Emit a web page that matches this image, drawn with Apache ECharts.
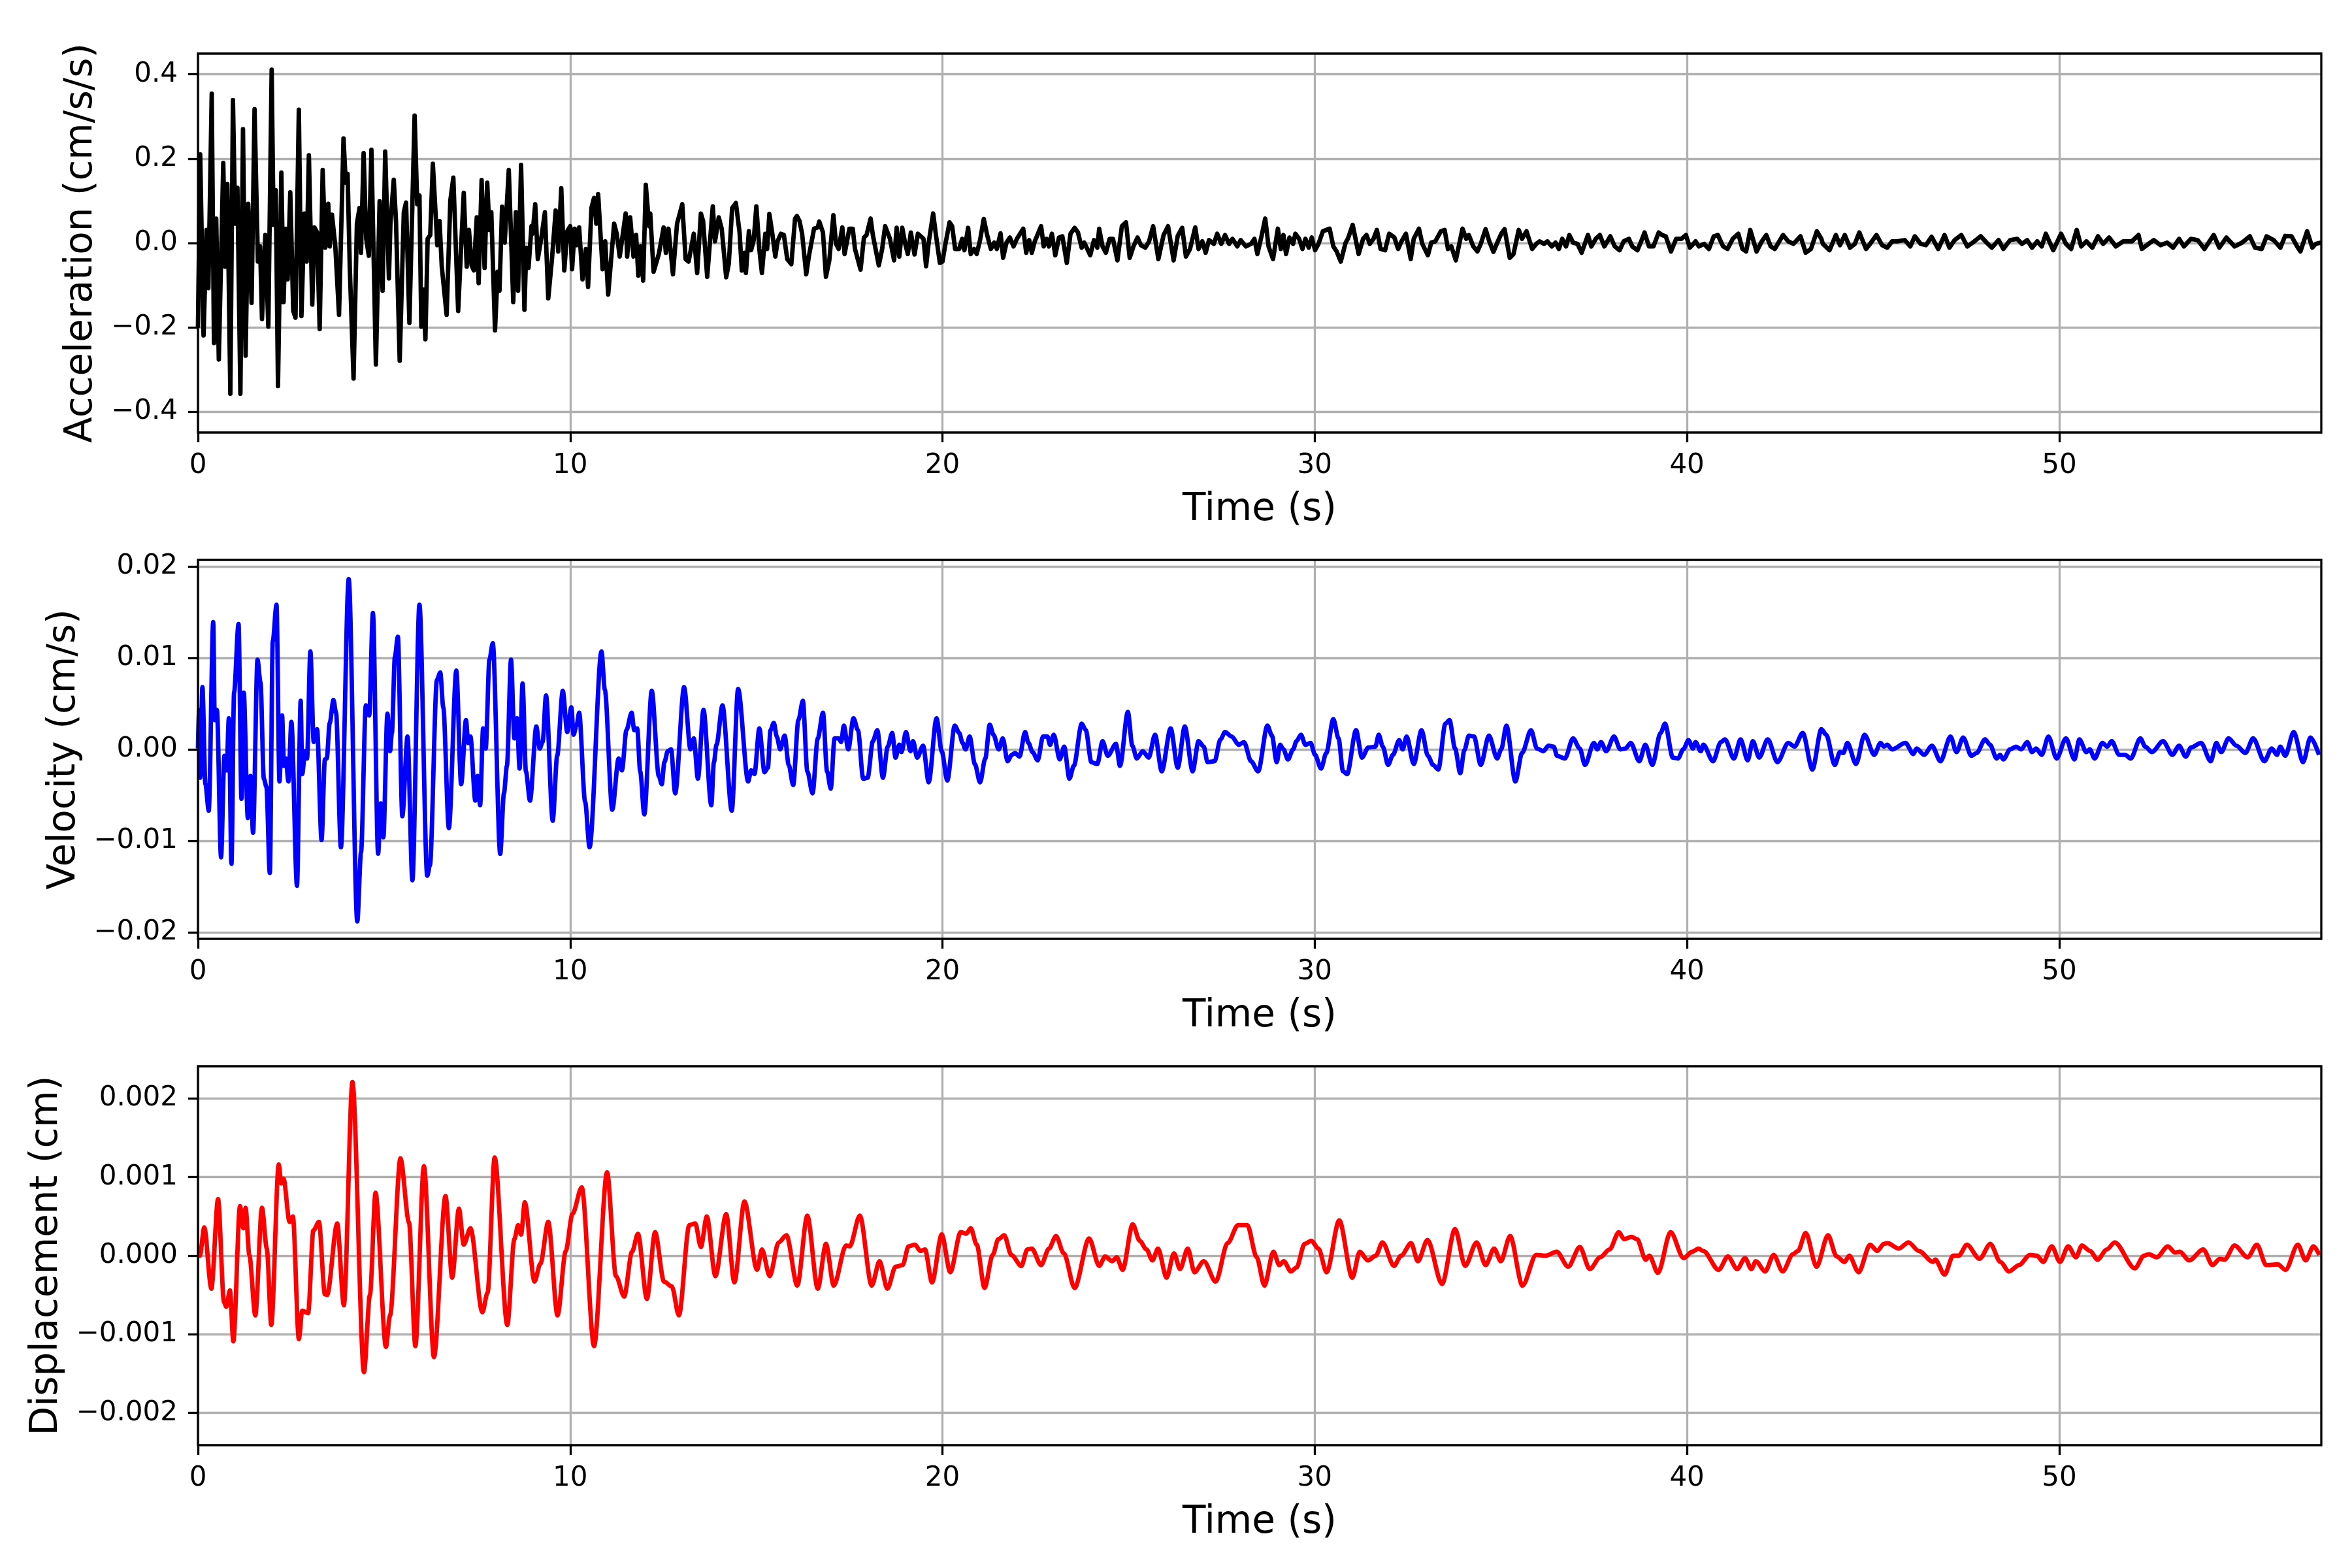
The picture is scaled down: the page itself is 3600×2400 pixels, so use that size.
<!DOCTYPE html>
<html>
<head>
<meta charset="utf-8">
<script src="https://cdn.jsdelivr.net/npm/echarts/dist/echarts.min.js"></script>
<style>
  html, body { margin: 0; padding: 0; background: #fff; }
  #chart { width: 3600px; height: 2400px; }
</style>
</head>
<body>
<div id="chart"></div>
<script>
// 时间范围和刻度
const tMax = 57.04
const xTicks = [0, 10, 20, 30, 40, 50]
const accTicks = [-0.4, -0.2, 0, 0.2, 0.4]
const velTicks = [-0.02, -0.01, 0, 0.01, 0.02]
const dispTicks = [-0.002, -0.001, 0, 0.001, 0.002]

// 加速度 [t, cm/s/s]
const accel = [
  [0.00,-0.201],[0.06,0.210],[0.15,-0.219],[0.23,0.031],[0.28,-0.107],[0.37,0.354],[0.43,-0.237],[0.49,0.058],[0.56,-0.276],[0.68,0.190],
  [0.73,-0.056],[0.79,0.140],[0.87,-0.357],[0.94,0.339],[1.00,0.046],[1.06,0.131],[1.14,-0.357],[1.21,0.270],[1.28,-0.267],[1.35,0.093],
  [1.44,-0.142],[1.52,0.317],[1.61,-0.044],[1.67,-0.008],[1.72,-0.180],[1.81,0.019],[1.89,-0.198],[1.98,0.411],[2.03,0.043],[2.09,0.125],
  [2.15,-0.339],[2.24,0.167],[2.30,-0.140],[2.36,0.034],[2.41,-0.086],[2.48,0.120],[2.56,-0.161],[2.62,-0.177],[2.71,0.316],[2.78,-0.173],
  [2.86,0.070],[2.92,-0.044],[2.98,0.208],[3.07,-0.146],[3.13,0.037],[3.20,0.025],[3.27,-0.204],[3.35,0.173],[3.42,-0.011],[3.50,0.093],
  [3.54,-0.008],[3.60,0.067],[3.69,-0.008],[3.79,-0.170],[3.91,0.248],[3.97,0.143],[4.02,0.164],[4.08,-0.062],[4.18,-0.321],[4.27,0.046],
  [4.34,0.083],[4.38,-0.023],[4.45,0.213],[4.52,0.010],[4.59,-0.030],[4.66,0.221],[4.78,-0.288],[4.88,0.099],[4.96,-0.113],[5.03,0.217],
  [5.13,-0.084],[5.17,0.046],[5.26,0.150],[5.32,0.052],[5.42,-0.279],[5.53,0.073],[5.59,0.096],[5.68,-0.189],[5.82,0.302],[5.89,0.092],
  [5.95,0.113],[6.00,-0.198],[6.05,-0.110],[6.11,-0.228],[6.17,0.010],[6.24,0.019],[6.31,0.188],[6.43,-0.005],[6.49,0.052],[6.55,-0.056],
  [6.68,-0.170],[6.78,0.101],[6.86,0.155],[6.99,-0.161],[7.07,-0.008],[7.14,0.119],[7.22,-0.056],[7.28,0.031],[7.35,-0.053],[7.41,-0.065],
  [7.49,0.061],[7.54,-0.095],[7.62,0.149],[7.70,-0.059],[7.77,0.143],[7.83,0.031],[7.88,0.073],[7.98,-0.207],[8.05,-0.068],[8.10,-0.113],
  [8.17,0.086],[8.24,0.001],[8.35,0.173],[8.47,-0.140],[8.54,0.073],[8.60,-0.113],[8.68,0.185],[8.77,-0.158],[8.82,-0.011],[8.88,-0.059],
  [8.96,0.040],[8.99,0.022],[9.06,0.092],[9.13,-0.038],[9.23,0.016],[9.32,0.073],[9.41,-0.131],[9.51,-0.038],[9.61,0.077],[9.68,-0.020],
  [9.76,0.130],[9.84,-0.065],[9.92,0.028],[10.00,0.040],[10.05,-0.062],[10.12,0.034],[10.18,-0.005],[10.24,0.037],[10.33,-0.086],[10.42,-0.014],
  [10.48,-0.104],[10.57,0.083],[10.64,0.107],[10.70,0.046],[10.75,0.116],[10.87,-0.062],[10.94,0.004],[11.02,-0.122],[11.18,0.046],[11.25,0.022],
  [11.33,-0.032],[11.49,0.070],[11.53,-0.032],[11.61,0.061],[11.70,-0.032],[11.77,0.019],[11.83,-0.077],[11.89,-0.008],[11.96,-0.089],[12.03,0.138],
  [12.12,0.040],[12.15,0.070],[12.24,-0.068],[12.38,-0.026],[12.51,0.037],[12.57,-0.023],[12.64,0.034],[12.76,-0.074],[12.87,0.046],[13.01,0.092],
  [13.10,-0.038],[13.18,-0.044],[13.32,0.022],[13.41,-0.071],[13.51,0.070],[13.57,0.052],[13.68,-0.080],[13.83,0.087],[13.89,0.004],[13.99,0.061],
  [14.07,0.034],[14.19,-0.081],[14.26,-0.049],[14.35,0.083],[14.45,0.095],[14.55,0.025],[14.61,-0.065],[14.68,-0.023],[14.72,-0.071],[14.80,0.028],
  [14.86,-0.017],[14.93,0.007],[15.00,0.087],[15.08,-0.014],[15.15,-0.071],[15.24,0.022],[15.29,-0.014],[15.35,0.069],[15.43,0.022],[15.51,-0.032],
  [15.57,0.004],[15.66,0.022],[15.74,0.019],[15.83,-0.038],[15.94,-0.050],[16.04,0.058],[16.09,0.064],[16.16,0.052],[16.23,0.022],[16.34,-0.074],
  [16.41,-0.032],[16.55,0.034],[16.65,0.037],[16.69,0.051],[16.79,0.025],[16.87,-0.080],[16.96,-0.041],[17.07,0.066],[17.14,-0.002],[17.21,-0.014],
  [17.31,0.037],[17.37,-0.026],[17.50,0.034],[17.59,0.034],[17.65,-0.014],[17.80,-0.063],[17.89,0.013],[17.96,0.019],[18.07,0.058],[18.13,0.019],
  [18.29,-0.053],[18.38,-0.014],[18.46,0.040],[18.59,0.010],[18.70,-0.041],[18.77,0.036],[18.84,-0.032],[18.92,0.036],[19.00,-0.002],[19.07,-0.026],
  [19.15,0.025],[19.25,-0.027],[19.34,0.022],[19.49,0.010],[19.56,-0.055],[19.63,0.001],[19.75,0.070],[19.82,0.022],[19.93,-0.047],[20.00,-0.044],
  [20.08,-0.002],[20.19,0.049],[20.26,0.040],[20.34,-0.014],[20.45,-0.014],[20.53,0.010],[20.59,-0.017],[20.69,0.036],[20.76,-0.026],[20.85,-0.014],
  [20.92,-0.026],[21.01,0.007],[21.11,0.057],[21.20,0.019],[21.30,-0.014],[21.39,0.001],[21.46,-0.014],[21.56,0.023],[21.63,-0.035],[21.72,0.001],
  [21.81,0.013],[21.91,-0.008],[22.00,0.010],[22.17,0.034],[22.25,-0.023],[22.33,0.007],[22.40,-0.023],[22.48,0.004],[22.65,0.040],[22.72,-0.008],
  [22.80,0.010],[22.86,-0.008],[22.94,0.022],[23.03,-0.029],[23.13,0.013],[23.22,0.016],[23.34,-0.047],[23.44,0.022],[23.55,0.036],[23.64,0.025],
  [23.74,-0.011],[23.81,0.001],[23.97,-0.029],[24.07,0.007],[24.16,-0.011],[24.21,0.034],[24.30,-0.008],[24.39,-0.023],[24.49,0.010],[24.58,0.010],
  [24.70,-0.041],[24.82,0.040],[24.93,0.049],[25.03,-0.035],[25.13,-0.008],[25.24,0.013],[25.33,-0.005],[25.45,-0.011],[25.55,0.004],[25.66,0.040],
  [25.80,-0.038],[25.94,0.019],[26.06,0.040],[26.21,-0.041],[26.32,0.017],[26.44,0.036],[26.54,-0.032],[26.65,-0.014],[26.79,0.037],[26.88,-0.014],
  [26.98,0.004],[27.07,-0.023],[27.16,0.007],[27.29,-0.002],[27.38,0.022],[27.49,-0.002],[27.59,0.019],[27.70,-0.002],[27.79,0.010],[27.92,-0.008],
  [28.01,0.007],[28.15,-0.008],[28.29,-0.002],[28.38,0.010],[28.46,-0.026],[28.57,0.016],[28.67,0.058],[28.76,-0.008],[28.88,-0.038],[29.01,0.034],
  [29.09,-0.014],[29.16,0.019],[29.23,-0.026],[29.32,0.013],[29.42,-0.002],[29.48,0.022],[29.58,0.010],[29.67,-0.014],[29.75,0.010],[29.84,-0.011],
  [29.92,0.013],[30.01,-0.017],[30.10,-0.002],[30.22,0.028],[30.31,0.031],[30.40,0.034],[30.50,-0.008],[30.59,-0.020],[30.70,-0.044],[30.83,0.001],
  [30.89,0.010],[31.02,0.043],[31.18,-0.026],[31.30,0.010],[31.39,0.019],[31.48,-0.002],[31.58,0.010],[31.67,0.031],[31.77,-0.014],[31.89,-0.017],
  [32.00,0.022],[32.14,0.013],[32.24,-0.014],[32.33,0.004],[32.45,0.022],[32.58,-0.038],[32.66,0.010],[32.80,0.034],[32.89,-0.002],[33.04,-0.029],
  [33.13,0.001],[33.24,0.004],[33.39,0.028],[33.49,0.031],[33.58,-0.014],[33.67,-0.008],[33.79,-0.041],[33.97,0.034],[34.07,0.010],[34.14,0.019],
  [34.26,-0.008],[34.37,-0.020],[34.46,-0.002],[34.59,0.033],[34.69,0.004],[34.80,-0.021],[34.92,0.004],[35.01,0.022],[35.10,0.033],[35.24,-0.035],
  [35.34,-0.026],[35.48,0.031],[35.57,0.010],[35.69,0.028],[35.84,-0.014],[35.95,-0.002],[36.04,0.004],[36.16,-0.002],[36.25,0.004],[36.37,-0.008],
  [36.47,0.001],[36.56,-0.014],[36.65,0.010],[36.75,-0.008],[36.84,0.019],[36.94,0.001],[37.06,-0.002],[37.17,-0.023],[37.34,0.019],[37.43,-0.008],
  [37.55,0.010],[37.66,0.019],[37.78,-0.008],[37.94,0.016],[38.06,-0.008],[38.19,-0.017],[38.30,0.004],[38.44,0.010],[38.53,-0.008],[38.67,-0.017],
  [38.77,0.004],[38.86,0.025],[38.98,-0.008],[39.10,-0.008],[39.24,0.025],[39.33,0.019],[39.43,0.016],[39.57,-0.020],[39.71,0.010],[39.85,0.010],
  [39.97,0.019],[40.08,-0.011],[40.23,0.004],[40.32,-0.008],[40.46,-0.002],[40.59,-0.014],[40.72,0.016],[40.83,0.019],[40.97,-0.008],[41.09,-0.014],
  [41.23,0.010],[41.38,0.022],[41.49,-0.014],[41.59,-0.020],[41.70,0.031],[41.87,-0.020],[42.01,0.004],[42.13,0.019],[42.25,-0.008],[42.36,-0.014],
  [42.58,0.019],[42.72,0.004],[42.86,-0.002],[43.05,0.016],[43.19,-0.023],[43.33,-0.014],[43.49,0.028],[43.61,0.010],[43.65,-0.002],[43.83,-0.017],
  [44.00,0.019],[44.11,-0.005],[44.24,0.019],[44.38,-0.011],[44.51,-0.002],[44.63,0.025],[44.81,-0.014],[44.92,-0.002],[45.09,0.019],[45.24,-0.005],
  [45.38,-0.011],[45.51,0.004],[45.65,0.004],[45.85,0.007],[46.00,-0.008],[46.12,0.016],[46.28,-0.002],[46.42,-0.005],[46.57,0.015],[46.75,-0.014],
  [46.92,0.019],[47.05,-0.011],[47.19,0.007],[47.37,0.019],[47.53,-0.008],[47.72,0.004],[47.89,0.016],[48.05,0.001],[48.19,-0.011],[48.37,0.007],
  [48.50,-0.014],[48.68,0.007],[48.87,0.010],[49.00,-0.002],[49.14,0.007],[49.27,-0.011],[49.41,0.004],[49.53,-0.008],[49.64,0.022],[49.84,-0.017],
  [50.05,0.022],[50.18,-0.002],[50.32,-0.014],[50.47,0.031],[50.59,-0.008],[50.73,0.004],[50.89,-0.011],[51.04,0.016],[51.18,-0.002],[51.34,0.013],
  [51.52,-0.008],[51.72,0.004],[51.95,0.004],[52.13,0.019],[52.22,-0.014],[52.40,-0.002],[52.54,0.007],[52.72,-0.005],[52.90,0.001],[53.06,-0.011],
  [53.22,0.010],[53.35,-0.008],[53.54,0.010],[53.72,0.007],[53.90,-0.014],[54.15,0.019],[54.30,-0.011],[54.49,0.013],[54.71,-0.008],[54.91,0.001],
  [55.12,0.016],[55.26,-0.011],[55.44,-0.014],[55.57,0.016],[55.76,0.007],[55.94,-0.011],[56.07,0.017],[56.24,0.016],[56.39,-0.008],[56.48,-0.020],
  [56.66,0.028],[56.80,-0.011],[56.89,-0.002],[57.03,0.001]
]

// 速度 [t, cm/s]
const velocity = [
  [0.00,0.0001],[0.03,0.0043],[0.06,-0.0031],[0.12,0.0068],[0.20,-0.0038],[0.29,-0.0067],[0.41,0.0139],[0.45,0.0032],[0.51,0.0043],[0.62,-0.0118],
  [0.71,-0.0007],[0.77,-0.0023],[0.83,0.0034],[0.90,-0.0125],[0.97,0.0062],[1.09,0.0137],[1.17,-0.0054],[1.23,0.0062],[1.34,-0.0075],[1.41,-0.0029],
  [1.48,-0.0091],[1.60,0.0098],[1.68,0.0073],[1.77,-0.0032],[1.84,-0.0041],[1.93,-0.0135],[2.01,0.0118],[2.11,0.0158],[2.19,-0.0035],[2.26,0.0037],
  [2.31,-0.0018],[2.36,-0.0010],[2.43,-0.0035],[2.51,0.0030],[2.66,-0.0149],[2.76,0.0053],[2.80,-0.0027],[2.88,-0.0002],[2.93,-0.0010],[3.02,0.0107],
  [3.11,0.0008],[3.20,0.0022],[3.32,-0.0099],[3.41,-0.0011],[3.46,-0.0010],[3.54,0.0029],[3.64,0.0054],[3.71,0.0040],[3.84,-0.0107],[4.05,0.0186],
  [4.28,-0.0188],[4.38,-0.0113],[4.51,0.0048],[4.60,0.0037],[4.70,0.0149],[4.84,-0.0114],[4.91,-0.0059],[4.98,-0.0096],[5.09,0.0039],[5.16,-0.0002],
  [5.21,0.0018],[5.29,0.0101],[5.37,0.0123],[5.49,-0.0073],[5.63,0.0014],[5.76,-0.0143],[5.95,0.0158],[6.16,-0.0138],[6.23,-0.0127],[6.42,0.0076],
  [6.51,0.0084],[6.59,0.0046],[6.74,-0.0086],[6.94,0.0086],[7.07,-0.0038],[7.20,0.0032],[7.26,0.0007],[7.32,0.0014],[7.45,-0.0056],[7.51,-0.0029],
  [7.58,-0.0061],[7.66,0.0023],[7.73,0.0001],[7.83,0.0098],[7.92,0.0116],[8.12,-0.0114],[8.22,-0.0048],[8.30,-0.0018],[8.41,0.0098],[8.50,0.0012],
  [8.57,0.0034],[8.64,-0.0021],[8.72,0.0072],[8.81,-0.0024],[8.92,-0.0056],[9.09,0.0025],[9.18,0.0001],[9.26,0.0008],[9.35,0.0059],[9.53,-0.0078],
  [9.65,-0.0007],[9.80,0.0064],[9.92,0.0019],[10.03,0.0046],[10.09,0.0016],[10.17,0.0026],[10.24,0.0040],[10.40,-0.0057],[10.52,-0.0107],[10.84,0.0107],
  [10.93,0.0065],[11.13,-0.0066],[11.30,-0.0010],[11.39,-0.0023],[11.51,0.0021],[11.65,0.0040],[11.72,0.0021],[11.80,0.0023],[11.88,-0.0024],[11.99,-0.0071],
  [12.19,0.0064],[12.38,-0.0029],[12.46,-0.0038],[12.53,-0.0014],[12.62,-0.0002],[12.71,0.0000],[12.82,-0.0048],[13.06,0.0068],[13.23,0.0000],[13.32,0.0012],
  [13.43,-0.0032],[13.58,0.0043],[13.79,-0.0061],[13.86,-0.0014],[13.93,0.0005],[14.09,0.0048],[14.34,-0.0067],[14.51,0.0066],[14.78,-0.0035],[14.86,-0.0023],
  [14.95,-0.0027],[15.08,0.0023],[15.22,-0.0025],[15.31,-0.0020],[15.38,0.0021],[15.47,0.0029],[15.55,0.0014],[15.64,0.0000],[15.76,0.0015],[15.87,-0.0017],
  [15.99,-0.0039],[16.13,0.0032],[16.25,0.0053],[16.37,-0.0024],[16.51,-0.0048],[16.65,0.0012],[16.79,0.0040],[16.90,-0.0024],[17.00,-0.0043],[17.10,0.0012],
  [17.21,0.0012],[17.28,0.0008],[17.35,0.0026],[17.47,0.0000],[17.61,0.0034],[17.73,0.0021],[17.87,-0.0032],[17.99,-0.0031],[18.13,0.0009],[18.25,0.0021],
  [18.40,-0.0031],[18.53,0.0003],[18.65,0.0018],[18.74,-0.0009],[18.84,0.0005],[18.90,-0.0003],[19.02,0.0019],[19.14,-0.0002],[19.21,0.0009],[19.32,-0.0009],
  [19.48,0.0004],[19.63,-0.0036],[19.84,0.0034],[19.98,-0.0002],[20.13,-0.0034],[20.33,0.0026],[20.45,0.0018],[20.54,0.0007],[20.62,0.0000],[20.73,0.0014],
  [20.87,-0.0016],[21.01,-0.0036],[21.15,-0.0010],[21.27,0.0027],[21.37,0.0016],[21.51,0.0000],[21.62,0.0012],[21.75,-0.0013],[21.86,-0.0006],[21.95,-0.0004],
  [22.07,-0.0008],[22.22,0.0019],[22.31,0.0007],[22.42,-0.0003],[22.56,-0.0012],[22.70,0.0014],[22.82,0.0014],[22.89,0.0005],[22.99,0.0016],[23.15,-0.0011],
  [23.27,0.0003],[23.41,-0.0032],[23.53,-0.0018],[23.74,0.0028],[23.85,0.0021],[24.00,-0.0014],[24.16,-0.0016],[24.30,0.0009],[24.44,-0.0007],[24.66,0.0006],
  [24.77,-0.0018],[24.98,0.0041],[25.10,0.0004],[25.22,-0.0010],[25.38,-0.0002],[25.54,-0.0009],[25.71,0.0016],[25.89,-0.0024],[26.13,0.0023],[26.32,-0.0020],
  [26.51,0.0025],[26.72,-0.0024],[26.88,0.0009],[27.02,0.0003],[27.12,-0.0014],[27.31,-0.0013],[27.47,0.0011],[27.59,0.0019],[27.77,0.0014],[27.96,0.0005],
  [28.10,0.0008],[28.29,-0.0013],[28.48,-0.0024],[28.73,0.0026],[28.85,0.0015],[28.98,-0.0014],[29.07,0.0005],[29.16,0.0000],[29.28,-0.0011],[29.42,0.0000],
  [29.51,0.0009],[29.63,0.0016],[29.75,0.0005],[29.89,0.0007],[30.01,-0.0006],[30.17,-0.0021],[30.31,-0.0004],[30.50,0.0033],[30.64,0.0012],[30.76,-0.0024],
  [30.87,-0.0027],[31.11,0.0021],[31.27,-0.0009],[31.44,0.0002],[31.63,0.0003],[31.72,0.0016],[31.83,0.0003],[31.97,-0.0017],[32.10,-0.0006],[32.27,0.0010],
  [32.36,0.0000],[32.47,0.0014],[32.66,-0.0016],[32.87,0.0021],[33.04,-0.0007],[33.18,-0.0017],[33.32,-0.0022],[33.51,0.0028],[33.62,0.0032],[33.77,0.0001],
  [33.91,-0.0026],[34.02,-0.0001],[34.14,0.0015],[34.28,0.0014],[34.46,-0.0017],[34.68,0.0015],[34.90,-0.0010],[35.01,0.0000],[35.15,0.0026],[35.39,-0.0035],
  [35.57,-0.0004],[35.81,0.0021],[35.97,0.0001],[36.14,-0.0002],[36.28,0.0004],[36.42,0.0003],[36.51,-0.0007],[36.72,-0.0010],[36.94,0.0012],[37.12,0.0001],
  [37.26,-0.0017],[37.50,0.0007],[37.59,0.0000],[37.69,0.0008],[37.83,-0.0002],[38.04,0.0014],[38.21,0.0000],[38.35,0.0001],[38.49,0.0007],[38.72,-0.0013],
  [38.88,0.0005],[39.07,-0.0017],[39.29,0.0018],[39.41,0.0028],[39.62,-0.0009],[39.76,-0.0010],[39.90,0.0000],[40.04,0.0010],[40.16,0.0001],[40.23,0.0008],
  [40.37,-0.0002],[40.44,0.0005],[40.70,-0.0013],[40.91,0.0008],[41.02,0.0011],[41.26,-0.0010],[41.44,0.0011],[41.63,-0.0012],[41.77,0.0009],[41.94,-0.0009],
  [42.17,0.0011],[42.43,-0.0014],[42.72,0.0007],[42.89,0.0003],[43.11,0.0018],[43.37,-0.0022],[43.61,0.0022],[43.74,0.0016],[43.97,-0.0017],[44.11,-0.0003],
  [44.20,-0.0004],[44.31,0.0007],[44.54,-0.0016],[44.77,0.0016],[45.03,-0.0006],[45.20,0.0007],[45.29,0.0003],[45.38,0.0005],[45.51,0.0000],[45.87,0.0007],
  [46.08,-0.0005],[46.17,0.0001],[46.37,-0.0006],[46.58,0.0004],[46.81,-0.0013],[47.08,0.0014],[47.24,-0.0003],[47.42,0.0013],[47.64,-0.0007],[47.78,-0.0004],
  [48.01,0.0011],[48.14,0.0005],[48.32,-0.0010],[48.41,-0.0006],[48.50,-0.0011],[48.68,0.0000],[48.84,0.0003],[48.98,0.0000],[49.14,0.0008],[49.27,-0.0003],
  [49.38,0.0001],[49.53,-0.0006],[49.71,0.0014],[49.93,-0.0010],[50.18,0.0012],[50.41,-0.0011],[50.54,0.0011],[50.73,-0.0003],[50.82,0.0000],[50.95,-0.0010],
  [51.16,0.0007],[51.29,0.0003],[51.41,0.0009],[51.61,-0.0006],[51.77,-0.0006],[51.92,-0.0010],[52.18,0.0012],[52.31,0.0003],[52.49,-0.0003],[52.79,0.0009],
  [53.04,-0.0006],[53.22,0.0004],[53.40,-0.0008],[53.54,0.0002],[53.81,0.0007],[54.07,-0.0013],[54.22,0.0007],[54.35,-0.0003],[54.55,0.0012],[54.76,0.0004],
  [55.00,-0.0004],[55.21,0.0012],[55.51,-0.0013],[55.71,0.0001],[55.85,-0.0006],[55.94,0.0003],[56.07,-0.0007],[56.30,0.0019],[56.55,-0.0014],[56.75,0.0013],
  [56.98,-0.0006]
]

// 位移 [t, cm]
const displacement = [
  [0.00,0.00000],[0.05,0.00000],[0.17,0.00036],[0.36,-0.00042],[0.54,0.00072],[0.70,-0.00059],[0.76,-0.00065],[0.86,-0.00044],[0.95,-0.00109],[1.13,0.00063],
  [1.22,0.00035],[1.28,0.00061],[1.38,0.00001],[1.54,-0.00076],[1.72,0.00061],[1.85,0.00009],[1.97,-0.00088],[2.17,0.00116],[2.24,0.00092],[2.30,0.00098],
  [2.46,0.00043],[2.55,0.00050],[2.71,-0.00106],[2.80,-0.00070],[2.96,-0.00073],[3.10,0.00032],[3.25,0.00043],[3.41,-0.00049],[3.47,-0.00050],[3.74,0.00041],
  [3.92,-0.00063],[4.15,0.00221],[4.46,-0.00148],[4.62,-0.00050],[4.77,0.00080],[5.05,-0.00116],[5.16,-0.00076],[5.44,0.00124],[5.67,0.00042],[5.84,-0.00115],
  [6.07,0.00114],[6.34,-0.00129],[6.65,0.00076],[6.83,-0.00028],[7.01,0.00060],[7.14,0.00014],[7.32,0.00035],[7.64,-0.00072],[7.78,-0.00047],[7.97,0.00125],
  [8.31,-0.00088],[8.50,0.00021],[8.60,0.00039],[8.68,0.00027],[8.78,0.00068],[9.04,-0.00033],[9.20,-0.00010],[9.41,0.00043],[9.66,-0.00076],[9.88,0.00006],
  [10.06,0.00053],[10.31,0.00087],[10.64,-0.00115],[10.99,0.00106],[11.23,-0.00026],[11.45,-0.00052],[11.66,0.00005],[11.82,0.00028],[12.06,-0.00055],[12.28,0.00030],
  [12.52,-0.00033],[12.73,-0.00039],[12.92,-0.00076],[13.20,0.00039],[13.36,0.00041],[13.51,0.00011],[13.67,0.00050],[13.90,-0.00026],[14.19,0.00053],[14.41,-0.00034],
  [14.68,0.00069],[15.02,-0.00018],[15.15,0.00008],[15.36,-0.00026],[15.60,0.00017],[15.81,0.00026],[16.10,-0.00038],[16.37,0.00051],[16.65,-0.00042],[16.87,0.00015],
  [17.08,-0.00038],[17.41,0.00013],[17.51,0.00012],[17.78,0.00051],[18.10,-0.00038],[18.31,-0.00007],[18.52,-0.00042],[18.74,-0.00014],[18.93,-0.00012],[19.09,0.00012],
  [19.26,0.00014],[19.41,0.00006],[19.53,0.00008],[19.72,-0.00034],[19.98,0.00027],[20.21,-0.00021],[20.49,0.00030],[20.64,0.00028],[20.76,0.00035],[20.92,0.00014],
  [21.13,-0.00041],[21.35,0.00001],[21.50,0.00021],[21.66,0.00026],[21.85,0.00001],[22.12,-0.00013],[22.28,0.00008],[22.40,0.00009],[22.65,-0.00012],[22.86,0.00009],
  [23.05,0.00025],[23.26,0.00003],[23.55,-0.00041],[23.94,0.00022],[24.21,-0.00013],[24.37,-0.00001],[24.56,-0.00007],[24.68,-0.00002],[24.84,-0.00018],[25.11,0.00040],
  [25.30,0.00019],[25.48,0.00008],[25.64,-0.00006],[25.79,0.00009],[26.02,-0.00028],[26.22,0.00003],[26.38,-0.00017],[26.59,0.00009],[26.77,-0.00021],[27.02,-0.00007],
  [27.34,-0.00033],[27.66,0.00016],[27.94,0.00039],[28.19,0.00039],[28.44,-0.00002],[28.65,-0.00038],[28.89,0.00005],[29.05,-0.00012],[29.17,-0.00007],[29.36,-0.00020],
  [29.51,-0.00015],[29.73,0.00015],[29.91,0.00019],[30.10,0.00009],[30.32,-0.00021],[30.66,0.00045],[31.01,-0.00028],[31.21,0.00005],[31.43,-0.00006],[31.64,0.00000],
  [31.82,0.00017],[32.13,-0.00013],[32.32,0.00000],[32.59,0.00016],[32.77,-0.00007],[33.03,0.00020],[33.42,-0.00036],[33.77,0.00034],[34.04,-0.00013],[34.35,0.00017],
  [34.59,-0.00012],[34.82,0.00009],[35.00,-0.00007],[35.25,0.00025],[35.58,-0.00038],[35.95,0.00001],[36.20,0.00000],[36.50,0.00005],[36.81,-0.00014],[37.12,0.00011],
  [37.39,-0.00017],[37.67,-0.00002],[37.92,0.00008],[38.17,0.00030],[38.31,0.00021],[38.51,0.00024],[38.66,0.00021],[38.89,-0.00005],[38.99,0.00000],[39.22,-0.00022],
  [39.56,0.00030],[39.91,-0.00003],[40.14,0.00005],[40.31,0.00009],[40.44,0.00006],[40.85,-0.00018],[41.10,-0.00001],[41.35,-0.00017],[41.56,-0.00003],[41.73,-0.00017],
  [41.85,-0.00007],[42.10,-0.00020],[42.33,0.00001],[42.57,-0.00020],[42.85,0.00002],[42.98,0.00006],[43.19,0.00029],[43.48,-0.00014],[43.79,0.00026],[44.02,-0.00001],
  [44.23,-0.00008],[44.36,0.00000],[44.61,-0.00021],[44.92,0.00014],[45.11,0.00006],[45.29,0.00015],[45.39,0.00016],[45.69,0.00009],[45.95,0.00017],[46.23,0.00006],
  [46.61,-0.00008],[46.67,-0.00005],[46.92,-0.00024],[47.15,0.00000],[47.30,0.00000],[47.52,0.00014],[47.86,-0.00004],[48.15,0.00015],[48.42,-0.00008],[48.65,-0.00020],
  [48.92,-0.00012],[49.21,0.00001],[49.40,0.00000],[49.57,-0.00008],[49.80,0.00012],[50.02,-0.00008],[50.24,0.00012],[50.45,-0.00002],[50.61,0.00013],[50.83,0.00006],
  [51.03,-0.00005],[51.28,0.00008],[51.49,0.00017],[52.03,-0.00016],[52.28,0.00000],[52.40,0.00002],[52.62,-0.00002],[52.92,0.00012],[53.11,0.00004],[53.24,0.00005],
  [53.49,-0.00006],[53.87,0.00008],[54.12,-0.00012],[54.31,-0.00004],[54.44,-0.00005],[54.71,0.00013],[55.06,-0.00002],[55.31,0.00014],[55.56,-0.00012],[55.87,-0.00011],
  [56.08,-0.00018],[56.41,0.00014],[56.62,-0.00006],[56.83,0.00012],[56.99,0.00001]
]

const font = 'DejaVu Sans'
const gridTops = [82, 857, 1632]

// 负号用 U+2212，跟 matplotlib 一样
const fmt = d => v => (v < 0 ? '\u2212' : '') + Math.abs(v).toFixed(d)

const makeX = (i) => ({
  gridIndex: i,
  type: 'value',
  position: 'bottom',
  min: 0,
  max: tMax,
  interval: 10,
  name: 'Time (s)',
  nameLocation: 'middle',
  nameGap: 90,
  nameTextStyle: { fontSize: 58, fontFamily: font, color: '#000' },
  axisLine: { show: false, onZero: false },
  axisTick: { show: true, length: 15, customValues: xTicks, lineStyle: { color: '#000', width: 3.3 } },
  axisLabel: { fontSize: 42, fontFamily: font, color: '#000', margin: 30, customValues: xTicks, formatter: v => String(v) },
  splitLine: { show: true, lineStyle: { color: '#b0b0b0', width: 3.3 } }
})

const makeY = (i, name, lim, ticks, digits, gap) => ({
  gridIndex: i,
  type: 'value',
  position: 'left',
  min: -lim,
  max: lim,
  splitNumber: 4,
  name: name,
  nameLocation: 'middle',
  nameGap: gap,
  nameTextStyle: { fontSize: 58, fontFamily: font, color: '#000' },
  axisLine: { show: false, onZero: false },
  axisTick: { show: true, length: 15, customValues: ticks, lineStyle: { color: '#000', width: 3.3 } },
  axisLabel: { fontSize: 42, fontFamily: font, color: '#000', margin: 31, customValues: ticks, formatter: fmt(digits) },
  splitLine: { show: true, lineStyle: { color: '#b0b0b0', width: 3.3 } }
})

const makeLine = (i, data, color, smooth) => ({
  type: 'line',
  xAxisIndex: i,
  yAxisIndex: i,
  data: data,
  showSymbol: false,
  smooth: smooth,
  smoothMonotone: 'x',
  lineStyle: { color: color, width: 6.8, join: 'round' },
  itemStyle: { color: color },
  z: 2
})

const chart = echarts.init(document.getElementById('chart'))
const option = {
  animation: false,
  backgroundColor: '#fff',
  textStyle: { fontFamily: font },
  grid: gridTops.map(top => ({
    left: 303, right: 47, top: top, height: 580,
    show: true, borderColor: '#000', borderWidth: 3.3,
    backgroundColor: 'transparent', z: 5,
    outerBoundsMode: 'none'
  })),
  xAxis: [makeX(0), makeX(1), makeX(2)],
  yAxis: [
    makeY(0, 'Acceleration (cm/s/s)', 0.449, accTicks, 1, 149),
    makeY(1, 'Velocity (cm/s)', 0.0207, velTicks, 2, 175),
    makeY(2, 'Displacement (cm)', 0.00241, dispTicks, 3, 202)
  ],
  series: [
    makeLine(0, accel, '#000000', false),
    makeLine(1, velocity, '#0000ff', 0.3),
    makeLine(2, displacement, '#ff0000', 0.3)
  ]
}
chart.setOption(option)
</script>
</body>
</html>
